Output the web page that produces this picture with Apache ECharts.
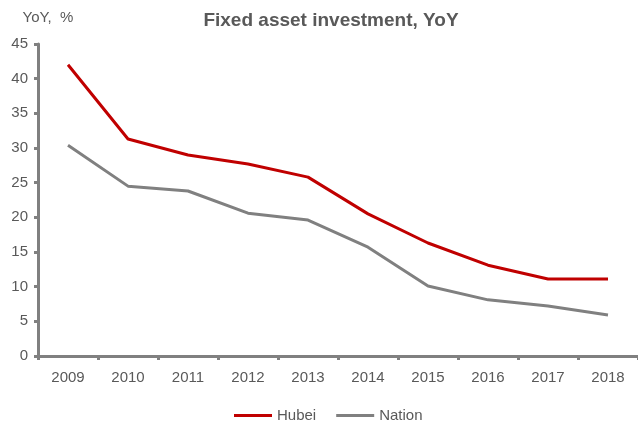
<!DOCTYPE html>
<html>
<head>
<meta charset="utf-8">
<script src="https://cdn.jsdelivr.net/npm/echarts@6/dist/echarts.min.js"></script>
<style>
  html, body { margin: 0; padding: 0; background: #fff; }
  #chart { width: 638px; height: 425px; }
</style>
</head>
<body>
<div id="chart"></div>
<script>
// data
var years = ["2009", "2010", "2011", "2012", "2013", "2014", "2015", "2016", "2017", "2018"];
var hubei = [42.0, 31.3, 29.0, 27.7, 25.8, 20.5, 16.3, 13.1, 11.1, 11.1];
var nation = [30.4, 24.5, 23.8, 20.6, 19.6, 15.7, 10.1, 8.1, 7.2, 5.9];

var textColor = "#595959";
var font = "Liberation Sans, Arial, sans-serif";

var myChart = echarts.init(document.getElementById("chart"));
myChart.setOption({
  animation: false,
  title: {
    text: "Fixed asset investment, YoY",
    left: 326,
    textAlign: "center",
    top: 6,
    textStyle: { color: textColor, fontSize: 19, fontWeight: "bold", fontFamily: font }
  },
  legend: {
    top: 403,
    left: 229,
    itemWidth: 38,
    itemHeight: 3,
    itemGap: 20,
    icon: "rect",
    textStyle: { color: textColor, fontSize: 15, fontFamily: font },
    data: ["Hubei", "Nation"]
  },
  grid: { left: 38, right: 0, top: 44, bottom: 69, containLabel: false },
  xAxis: {
    type: "category",
    data: years,
    boundaryGap: true,
    axisLine: { lineStyle: { color: "#808080", width: 3 } },
    axisTick: { show: true, length: 4, lineStyle: { color: "#808080", width: 3 } },
    axisLabel: { color: textColor, fontSize: 15, fontFamily: font, margin: 14 }
  },
  yAxis: {
    type: "value",
    min: 0,
    max: 45,
    interval: 5,
    name: "YoY,  %",
    nameLocation: "end",
    nameGap: 19,
    nameTextStyle: { color: textColor, fontSize: 15, fontFamily: font, align: "center", padding: [0, 0, 0, 20] },
    axisLine: { show: true, lineStyle: { color: "#808080", width: 3 } },
    axisTick: { show: true, length: 4, lineStyle: { color: "#808080", width: 3 } },
    axisLabel: { color: textColor, fontSize: 15, fontFamily: font, margin: 10 },
    splitLine: { show: false }
  },
  series: [
    {
      name: "Hubei",
      type: "line",
      data: hubei,
      symbol: "none",
      color: "#C00000",
      lineStyle: { width: 3, color: "#C00000" }
    },
    {
      name: "Nation",
      type: "line",
      data: nation,
      symbol: "none",
      color: "#808080",
      lineStyle: { width: 3, color: "#808080" }
    }
  ]
});
</script>
</body>
</html>
